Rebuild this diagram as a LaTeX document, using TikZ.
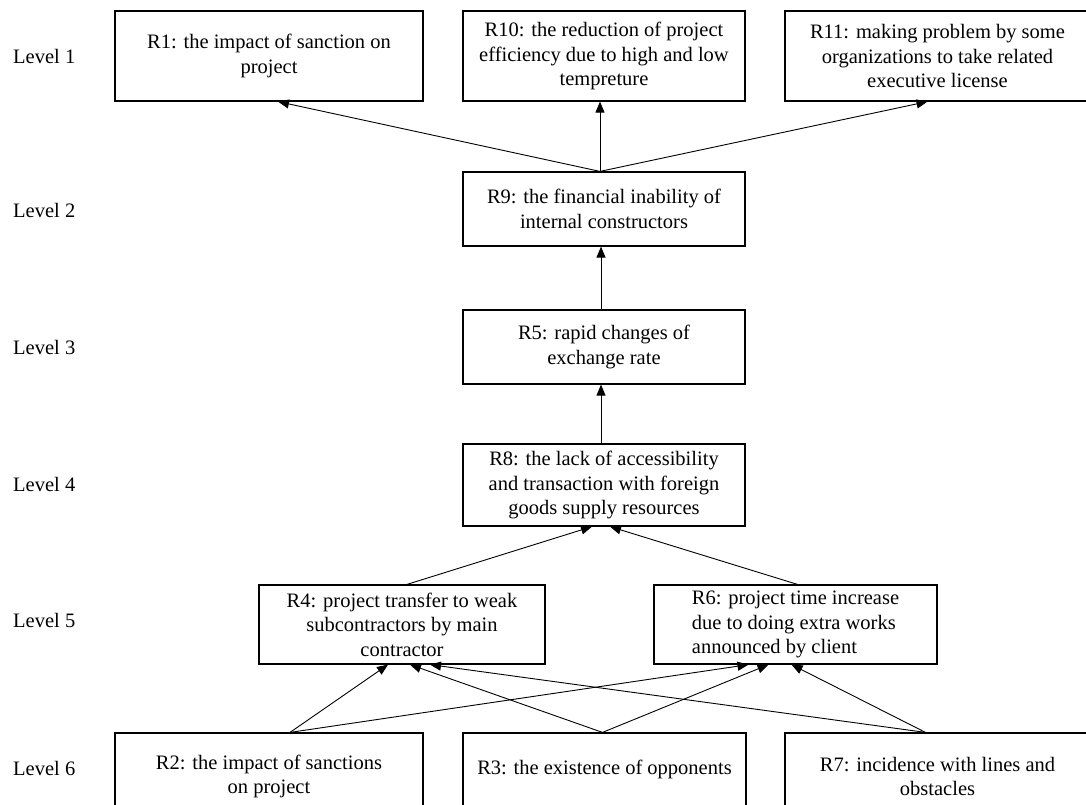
\documentclass[tikz,border=0pt]{standalone}
\usepackage{fontspec}
\setmainfont{Liberation Serif}
\usetikzlibrary{arrows.meta}

\begin{document}
\begin{tikzpicture}
  [x=1pt,y=-1pt,font=\fontsize{20.5}{24.5}\selectfont]
      \tikzstyle{risk_box} = [draw=black, line width=1.2, rectangle, inner sep=0, align=center, minimum height=74]
      \tikzstyle{level_label} = [anchor=west, inner sep=0]
      \tikzstyle{edge_style} = [draw=black, line width=0.9, -{Triangle[length=11pt,width=9pt]}]
  \clip (0,0) rectangle (1086,805);
  \fill[white] (0,0) rectangle (1086,805);

  \node[level_label] (l1) at (13,56) {Level 1};
  \node[level_label] (l2) at (13,210) {Level 2};
  \node[level_label] (l3) at (13,347) {Level 3};
  \node[level_label] (l4) at (13,484) {Level 4};
  \node[level_label] (l5) at (13,620) {Level 5};
  \node[level_label] (l6) at (13,768) {Level 6};

  \node[risk_box, minimum width=308, minimum height=90] (r1) at (269,56) {R1: the impact of sanction on\\project};
  \node[risk_box, minimum width=282, minimum height=90] (r10) at (604,56) {R10: the reduction of project\\efficiency due to high and low\\tempreture};
  \node[risk_box, minimum width=305, minimum height=90] (r11) at (937.5,56) {R11: making problem by some\\organizations to take related\\executive license};
  \node[risk_box, minimum width=282] (r9) at (604,209) {R9: the financial inability of\\internal constructors};
  \node[risk_box, minimum width=282] (r5) at (604,347) {R5: rapid changes of\\exchange rate};
  \node[risk_box, minimum width=282, minimum height=82] (r8) at (604,485) {R8: the lack of accessibility\\and transaction with foreign\\goods supply resources};
  \node[risk_box, minimum width=286, minimum height=79] (r4) at (402,624.5) {R4: project transfer to weak\\subcontractors by main\\contractor};
  \node[risk_box, minimum width=283, minimum height=79, align=left] (r6) at (795.5,624.5) {R6: project time increase\\due to doing extra works\\announced by client};
  \node[risk_box, minimum width=308, minimum height=87] (r2) at (269,776.5) {R2: the impact of sanctions\\on project};
  \node[risk_box, minimum width=283, minimum height=87, text height=15pt, text depth=20pt] (r3) at (604.5,776.5) {R3: the existence of opponents};
  \node[risk_box, minimum width=305, minimum height=87] (r7) at (937.5,776.5) {R7: incidence with lines and\\obstacles};

  \draw[edge_style] ([xshift=-4pt]r9.north) -- ([xshift=9pt]r1.south);
  \draw[edge_style] ([xshift=-4pt]r9.north) -- ([xshift=-4pt]r10.south);
  \draw[edge_style] ([xshift=-4pt]r9.north) -- ([xshift=-10pt]r11.south);
  \draw[edge_style] ([xshift=-3pt]r5.north) -- ([xshift=-3pt]r9.south);
  \draw[edge_style] ([xshift=-3pt]r8.north) -- ([xshift=-3pt]r5.south);
  \draw[edge_style] ([xshift=5pt]r4.north) -- ([xshift=-12pt]r8.south);
  \draw[edge_style] ([xshift=2pt]r6.north) -- ([xshift=6pt]r8.south);
  \draw[edge_style] ([xshift=21pt]r2.north) -- ([xshift=-14pt]r4.south);
  \draw[edge_style] ([xshift=21pt]r2.north) -- ([xshift=-47pt]r6.south);
  \draw[edge_style] ([xshift=-2pt]r3.north) -- ([xshift=8pt]r4.south);
  \draw[edge_style] ([xshift=-2pt]r3.north) -- ([xshift=-27pt]r6.south);
  \draw[edge_style] ([xshift=-12pt]r7.north) -- ([xshift=28pt]r4.south);
  \draw[edge_style] ([xshift=-12pt]r7.north) -- ([xshift=-4pt]r6.south);
\end{tikzpicture}
\end{document}
